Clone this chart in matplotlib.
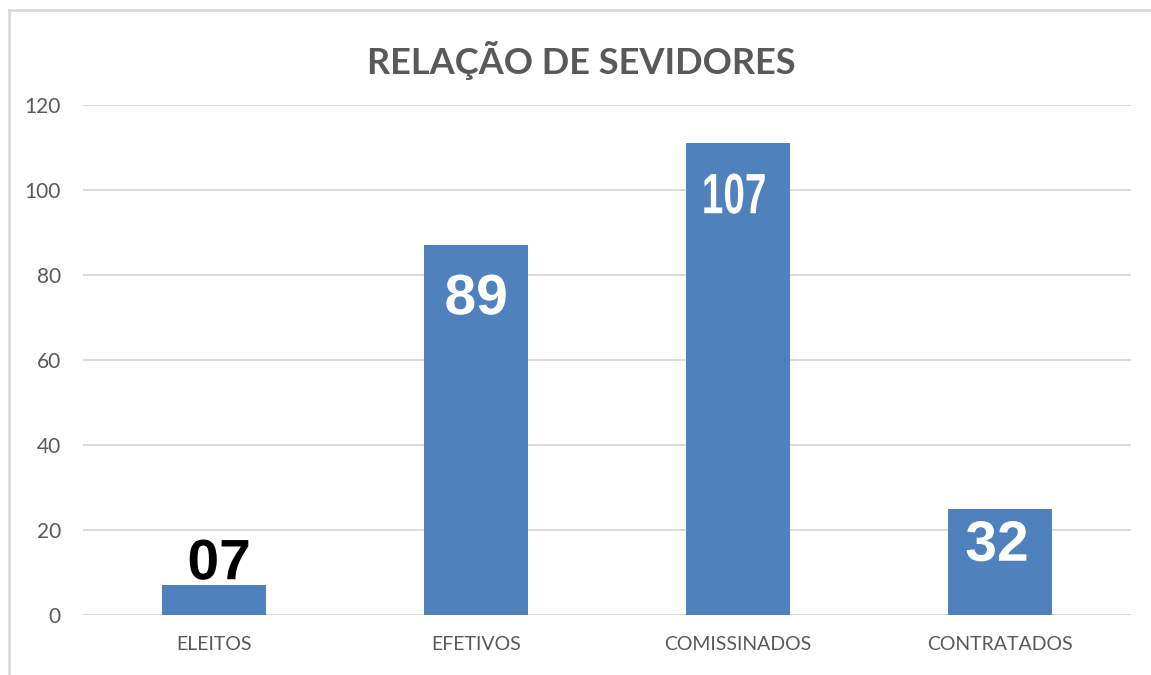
import matplotlib
matplotlib.use("Agg")
import matplotlib.pyplot as plt
from matplotlib.lines import Line2D
from matplotlib.textpath import TextPath
from matplotlib.patches import PathPatch
from matplotlib.font_manager import FontProperties
from matplotlib.transforms import Affine2D, ScaledTranslation

categories = ["ELEITOS", "EFETIVOS", "COMISSINADOS", "CONTRATADOS"]
values = [7, 87, 111, 25]
labels = ["07", "89", "107", "32"]
yticks = [0, 20, 40, 60, 80, 100, 120]
title = "RELAÇÃO DE SEVIDORES"

BAR = "#4F81BD"
GRID = "#D9D9D9"
TXT = "#595959"
DPI = 100

fig = plt.figure(figsize=(11.51, 6.75), dpi=DPI)
ax = fig.add_axes([83/1151, 1-615/675, (1131-83)/1151, (615-105)/675])

x = list(range(len(categories)))
ax.bar(x, values, width=0.4, color=BAR, zorder=3)
ax.set_xlim(-0.5, len(categories)-0.5)
ax.set_ylim(0, 120)
ax.set_yticks(yticks)
ax.set_xticks(x)
ax.set_xticklabels(categories, fontfamily="Lato", fontsize=14, color=TXT)
ax.set_yticklabels([str(t) for t in yticks], fontfamily="Lato", fontsize=15, color=TXT)
ax.tick_params(axis="both", length=0)
ax.tick_params(axis="y", pad=16)
ax.tick_params(axis="x", pad=15)
ax.grid(axis="y", color=GRID, linewidth=1.3, zorder=0)
for s in ax.spines.values():
    s.set_visible(False)

# value labels (drawn as text paths so the condensed one can be narrowed)
dy_px = [6, -69, -70, -52]        # baseline offset from bar top, pixels
dx_px = [5, 0, -3.5, -3.5]        # horizontal nudge, pixels
xscale = [1.0, 1.0, 0.68, 1.0]    # horizontal squeeze
colors = ["black", "white", "white", "white"]
fp = FontProperties(family="Liberation Sans", weight="bold")
size_pt = 41
for i, (v, lab) in enumerate(zip(values, labels)):
    tp = TextPath((0, 0), lab, size=size_pt, prop=fp)
    bb = tp.get_extents()
    cx = (bb.x0 + bb.x1) / 2
    s = DPI / 72.0
    tr = (Affine2D().translate(-cx, 0).scale(s * xscale[i], s)
          .translate(dx_px[i], dy_px[i])
          + ScaledTranslation(i, v, ax.transData))
    patch = PathPatch(tp, facecolor=colors[i], edgecolor="none",
                      transform=tr, zorder=4, clip_on=False)
    fig.add_artist(patch)

fig.text(581/1151, 1-60/675, title, ha="center", va="center",
         fontfamily="Lato", fontweight="bold", fontsize=26, color=TXT)

# chart border (left and top visible)
fig.add_artist(Line2D([8.5/1151, 8.5/1151], [0, 1-10/675], color=GRID, linewidth=2,
                      transform=fig.transFigure))
fig.add_artist(Line2D([8.5/1151, 1], [1-10/675, 1-10/675], color=GRID, linewidth=2,
                      transform=fig.transFigure))

fig.savefig("out.png", dpi=DPI)
